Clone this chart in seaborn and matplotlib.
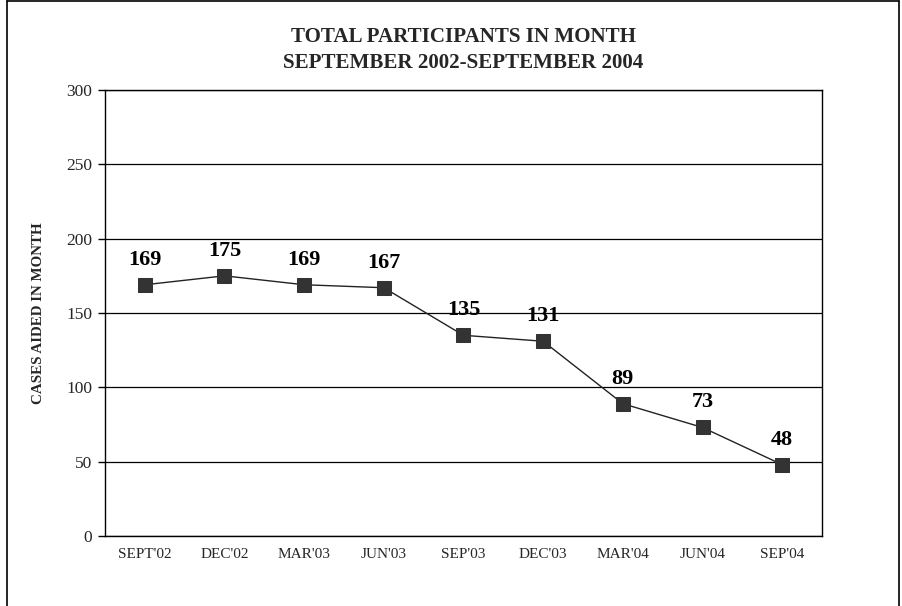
import matplotlib
matplotlib.use("Agg")
import matplotlib.pyplot as plt
from matplotlib.lines import Line2D
import seaborn as sns
import pandas as pd
import numpy as np

categories = ["SEPT'02", "DEC'02", "MAR'03", "JUN'03", "SEP'03", "DEC'03", "MAR'04", "JUN'04", "SEP'04"]
values = [169, 175, 169, 167, 135, 131, 89, 73, 48]
yticks = [0, 50, 100, 150, 200, 250, 300]
title = "TOTAL PARTICIPANTS IN MONTH\nSEPTEMBER 2002-SEPTEMBER 2004"
ylabel = "CASES AIDED IN MONTH"

sns.set_style("white")
plt.rcParams['font.family'] = ['Liberation Serif', 'DejaVu Serif']

W, H = 902, 606
fig = plt.figure(figsize=(W / 100, H / 100), dpi=100)
ax = fig.add_axes([105 / W, 1 - 536 / H, (822 - 105) / W, (536 - 90) / H])

df = pd.DataFrame({"pos": np.arange(len(categories)), "value": values})
sns.lineplot(data=df, x="pos", y="value", ax=ax, color="#222222", linewidth=1.0,
             marker="s", markersize=10.5, markerfacecolor="#333333",
             markeredgecolor="#333333", zorder=3)

for x, v in zip(df["pos"], df["value"]):
    ax.annotate(str(v), (x, v), xytext=(0, 14.5), textcoords="offset points",
                ha="center", va="baseline", fontsize=16, fontweight="bold", color="black")

ax.set_xlim(-0.5, len(categories) - 0.5)
ax.set_ylim(0, 300)
ax.set_yticks(yticks)
ax.set_yticklabels([str(t) for t in yticks], fontsize=12.5)
ax.set_xticks(np.arange(len(categories)))
ax.set_xticklabels(categories, fontsize=11)
ax.set_xticks(np.arange(len(categories) + 1) - 0.5, minor=True)
ax.tick_params(axis="x", which="major", length=0, pad=9)
ax.tick_params(axis="x", which="minor", length=5, width=1, color="black", direction="out")
ax.tick_params(axis="y", which="major", length=5, width=1, color="black", direction="out", pad=4, left=True)
ax.yaxis.grid(True, color="black", linewidth=0.9)
ax.xaxis.grid(False)
ax.set_axisbelow(True)
for s in ax.spines.values():
    s.set_visible(True)
    s.set_color("black")
    s.set_linewidth(1.0)

ax.set_xlabel("")
ax.set_ylabel(ylabel, fontsize=10.8, fontweight="bold", labelpad=14)
ax.yaxis.set_label_coords((45 - 105) / (822 - 105), 0.5)

fig.text(463.5 / W, 1 - 50 / H, title, ha="center", va="center", fontsize=15.1,
         fontweight="bold", linespacing=1.4)

# chart-area border
fig.add_artist(Line2D([7 / W, 7 / W], [0, 1 - 1 / H], transform=fig.transFigure, color="black", linewidth=1.2))
fig.add_artist(Line2D([7 / W, 899 / W], [1 - 1 / H, 1 - 1 / H], transform=fig.transFigure, color="black", linewidth=1.2))
fig.add_artist(Line2D([899 / W, 899 / W], [0, 1 - 1 / H], transform=fig.transFigure, color="black", linewidth=1.2))

fig.savefig("out.png", dpi=100)
